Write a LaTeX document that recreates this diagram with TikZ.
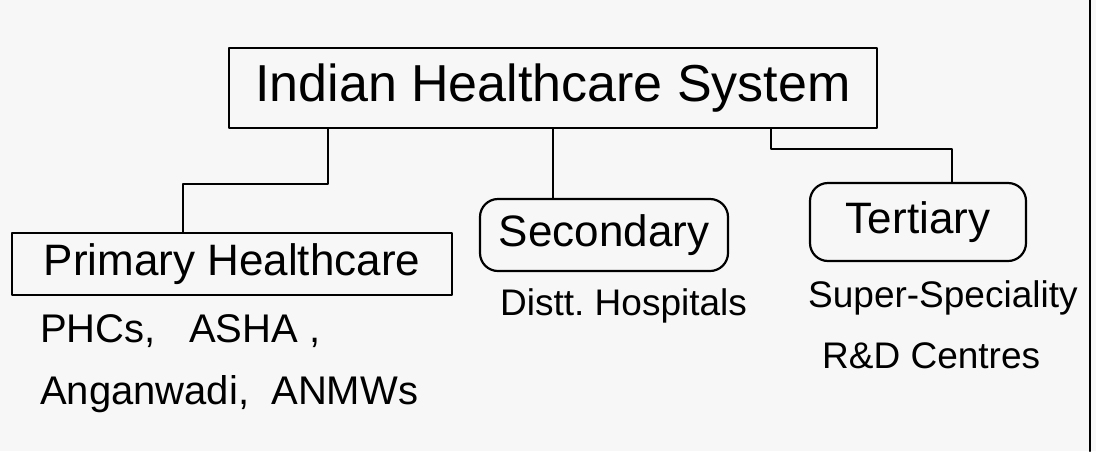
\documentclass[tikz,border=0pt]{standalone}
\usepackage{fontspec}
\setmainfont{Liberation Sans}
\begin{document}
\begin{tikzpicture}[x=1pt,y=-1pt,
  hand/.style={line width=2.2pt,black,line cap=round,line join=round},
  boxed/.style={draw,hand,inner sep=0pt},
  title/.style={font=\fontsize{52}{58}\selectfont},
  label/.style={font=\fontsize{44}{50}\selectfont},
  note/.style={font=\fontsize{40}{62}\selectfont,align=left,inner sep=0pt},
  smallnote/.style={font=\fontsize{37}{58}\selectfont,inner sep=0pt}]
\useasboundingbox (0,0) rectangle (1096,451);
\fill[white!94!gray] (0,0) rectangle (1096,451);
\draw[hand] (1090,0) -- (1090,451);
% main box
\node[boxed,minimum width=648pt,minimum height=80pt,title] (root) at (553,88) {Indian Healthcare System};
% children
\node[boxed,minimum width=440pt,minimum height=62pt,label] (prim) at (232,264) {Primary Healthcare};
\node[boxed,rounded corners=18pt,minimum width=248pt,minimum height=72pt,label] (sec) at (604,235) {Secondary};
\node[boxed,rounded corners=18pt,minimum width=216pt,minimum height=78pt,label] (ter) at (918,222) {Tertiary};
% notes
\node[note,anchor=north west] (primnote) at (40,314) {PHCs,\ \ \ ASHA ,\\Anganwadi,\ \ ANMWs};
\node[smallnote,anchor=west] (secnote) at (500,306) {Distt.\ Hospitals};
\node[smallnote,anchor=west] (ternote) at (808,298) {Super-Speciality};
\node[smallnote,anchor=west] (ternote2) at (822,356) {R\&D Centres};
% connectors
\draw[hand] (root.south -| 328,0) |- (183,184) -- (prim.north -| 183,0);
\draw[hand] (root.south -| 553,0) -- (sec.north -| 553,0);
\draw[hand] (root.south -| 771,0) |- (952,149) -- (ter.north -| 952,0);
\end{tikzpicture}
\end{document}
